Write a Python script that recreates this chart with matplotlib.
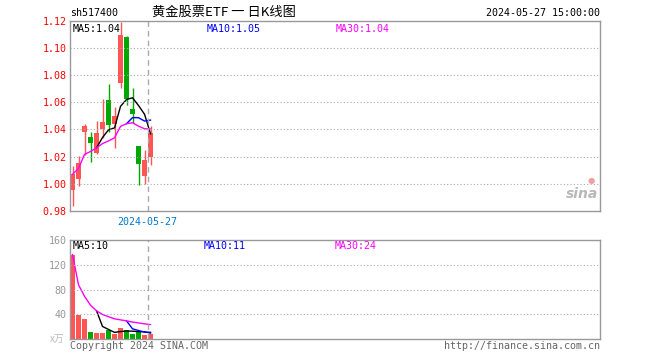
import numpy as np
import pandas as pd
import matplotlib
matplotlib.use('Agg')
import matplotlib.pyplot as plt

# daily K data
opens  = [0.9952, 1.0033, 1.0382, 1.0343, 1.0227, 1.0404, 1.0616, 1.0439, 1.0738, 1.1080, 1.0549, 1.0277, 1.0058, 1.0198]
closes = [1.0070, 1.0156, 1.0424, 1.0301, 1.0372, 1.0453, 1.0434, 1.0498, 1.1094, 1.0623, 1.0515, 1.0149, 1.0178, 1.0372]
highs  = [1.0129, 1.0208, 1.0439, 1.0380, 1.0463, 1.0626, 1.0736, 1.0566, 1.1190, 1.1090, 1.0704, 1.0277, 1.0247, 1.0424]
lows   = [0.9834, 0.9984, 1.0210, 1.0161, 1.0218, 1.0340, 1.0382, 1.0267, 1.0706, 1.0579, 1.0451, 0.9994, 0.9997, 1.0139]
volumes = [136.5, 38.9, 32.5, 11.7, 10.1, 10.1, 14.9, 9.1, 18.1, 14.9, 8.5, 11.7, 6.9, 8.5]

price_ticks = [0.98, 1.00, 1.02, 1.04, 1.06, 1.08, 1.10, 1.12]
vol_ticks = [40, 80, 120, 160]
code = 'sh517400'
title = '黄金股票ETF 一 日K线图'
stamp = '2024-05-27 15:00:00'
date_label = '2024-05-27'

RED = '#ff5555'
GREEN = '#00a800'
GRID = '#aaaaaa'
BORDER = '#999999'
MONO = 'DejaVu Sans Mono'
plt.rcParams['font.family'] = [MONO, 'Noto Sans CJK SC']

x = np.arange(len(closes))
o = np.array(opens); c = np.array(closes)
up = c >= o
cols = [RED if u else GREEN for u in up]

cs = pd.Series(closes)
ma5 = cs.rolling(5).mean()
ma10 = cs.rolling(10).mean()
ma30 = cs.rolling(30, min_periods=1).mean()
vs = pd.Series(volumes)
v5 = vs.rolling(5).mean()
v10 = vs.rolling(10).mean()
v30 = vs.rolling(30, min_periods=1).mean()

fig = plt.figure(figsize=(6.6, 3.6), dpi=100)
W, H = 660, 360
def box(l, t, r, b):
    return [l / W, 1 - b / H, (r - l) / W, (b - t) / H]

ax = fig.add_axes(box(70, 20.7, 600, 211))
av = fig.add_axes(box(70, 240, 600, 339.3))
xl = (-0.42, 87.9)
vline_x = 12.6

# ---- price panel
ax.vlines(x, lows, highs, colors=cols, linewidth=1)
ax.bar(x, np.maximum(np.abs(c - o), 0.0004), bottom=np.minimum(o, c), width=0.85, color=cols, linewidth=0)
ax.plot(x, ma5, color='black', lw=1)
ax.plot(x, ma10, color='#0000ff', lw=1)
ax.plot(x, ma30, color='#ff00ff', lw=1)
ax.set_xlim(*xl)
ax.set_ylim(price_ticks[0], price_ticks[-1])
ax.set_yticks(price_ticks)
ax.set_yticklabels(['%.2f' % t for t in price_ticks], color='red', fontsize=7.2)
ax.set_xticks([])
for t in price_ticks[1:-1]:
    ax.axhline(t, color=GRID, lw=0.8, ls=(0, (1, 2)))
ax.axvline(vline_x, color=GRID, lw=1, ls=(0, (4, 3)))
ax.text(0.005, 0.985, 'MA5:%.2f' % ma5.iloc[-1], transform=ax.transAxes, va='top', fontsize=7.2, color='black')
ax.text(0.258, 0.985, 'MA10:%.2f' % ma10.iloc[-1], transform=ax.transAxes, va='top', fontsize=7.2, color='#0000ff')
ax.text(0.502, 0.985, 'MA30:%.2f' % ma30.iloc[-1], transform=ax.transAxes, va='top', fontsize=7.2, color='#ff00ff')
ax.text(0.997, 0.05, 'sina', transform=ax.transAxes, ha='right', va='bottom', fontsize=10,
        style='italic', fontweight='bold', color='#b8b8b8', family='DejaVu Sans')
ax.text(0.99, 0.135, '●', transform=ax.transAxes, ha='right', va='bottom', fontsize=6,
        color='#f0a0a0', family='DejaVu Sans')
ax.text(vline_x - 0.2, -0.03, date_label, transform=ax.get_xaxis_transform(), ha='center', va='top',
        fontsize=7.2, color='#0077cc')

# ---- volume panel
av.bar(x, volumes, width=0.8, color=cols, linewidth=0)
av.plot(x, v5, color='black', lw=1)
av.plot(x, v10, color='#0000ff', lw=1)
av.plot(x, v30, color='#ff00ff', lw=1)
av.set_xlim(*xl)
av.set_ylim(0, vol_ticks[-1])
av.set_yticks(vol_ticks)
av.set_yticklabels([str(t) for t in vol_ticks], color='#999999', fontsize=7.2)
av.set_xticks([])
for t in vol_ticks[:-1]:
    av.axhline(t, color=GRID, lw=0.8, ls=(0, (1, 2)))
av.axvline(vline_x, color=GRID, lw=1, ls=(0, (4, 3)))
av.text(-0.01, 0.0, 'x万', transform=av.transAxes, ha='right', va='center', fontsize=7,
        color='#bbbbbb', family=['Noto Sans CJK SC', MONO])
av.text(0.005, 0.985, 'MA5:%.0f' % v5.iloc[-1], transform=av.transAxes, va='top', fontsize=7.2, color='black')
av.text(0.252, 0.985, 'MA10:%.0f' % v10.iloc[-1], transform=av.transAxes, va='top', fontsize=7.2, color='#0000ff')
av.text(0.5, 0.985, 'MA30:%.0f' % v30.iloc[-1], transform=av.transAxes, va='top', fontsize=7.2, color='#ff00ff')
av.text(0.0, -0.02, 'Copyright 2024 SINA.COM', transform=av.transAxes, va='top', fontsize=7.2, color='#666666')
av.text(1.0, -0.02, 'http://finance.sina.com.cn', transform=av.transAxes, ha='right', va='top', fontsize=7.2, color='#666666')

for a in (ax, av):
    a.tick_params(axis='y', length=0, pad=2.5)
    for s in a.spines.values():
        s.set_color(BORDER)
        s.set_linewidth(1)

fig.text(70 / W, 1 - 13 / H, code, fontsize=7.2, va='center', color='black')
fig.text(224 / W, 1 - 12 / H, title, fontsize=9.5, va='center', ha='center', color='black',
         family=['Noto Sans CJK SC', 'DejaVu Sans'])
fig.text(600 / W, 1 - 13 / H, stamp, fontsize=7.2, va='center', ha='right', color='black')

fig.savefig('out.png', dpi=100, facecolor='white')
